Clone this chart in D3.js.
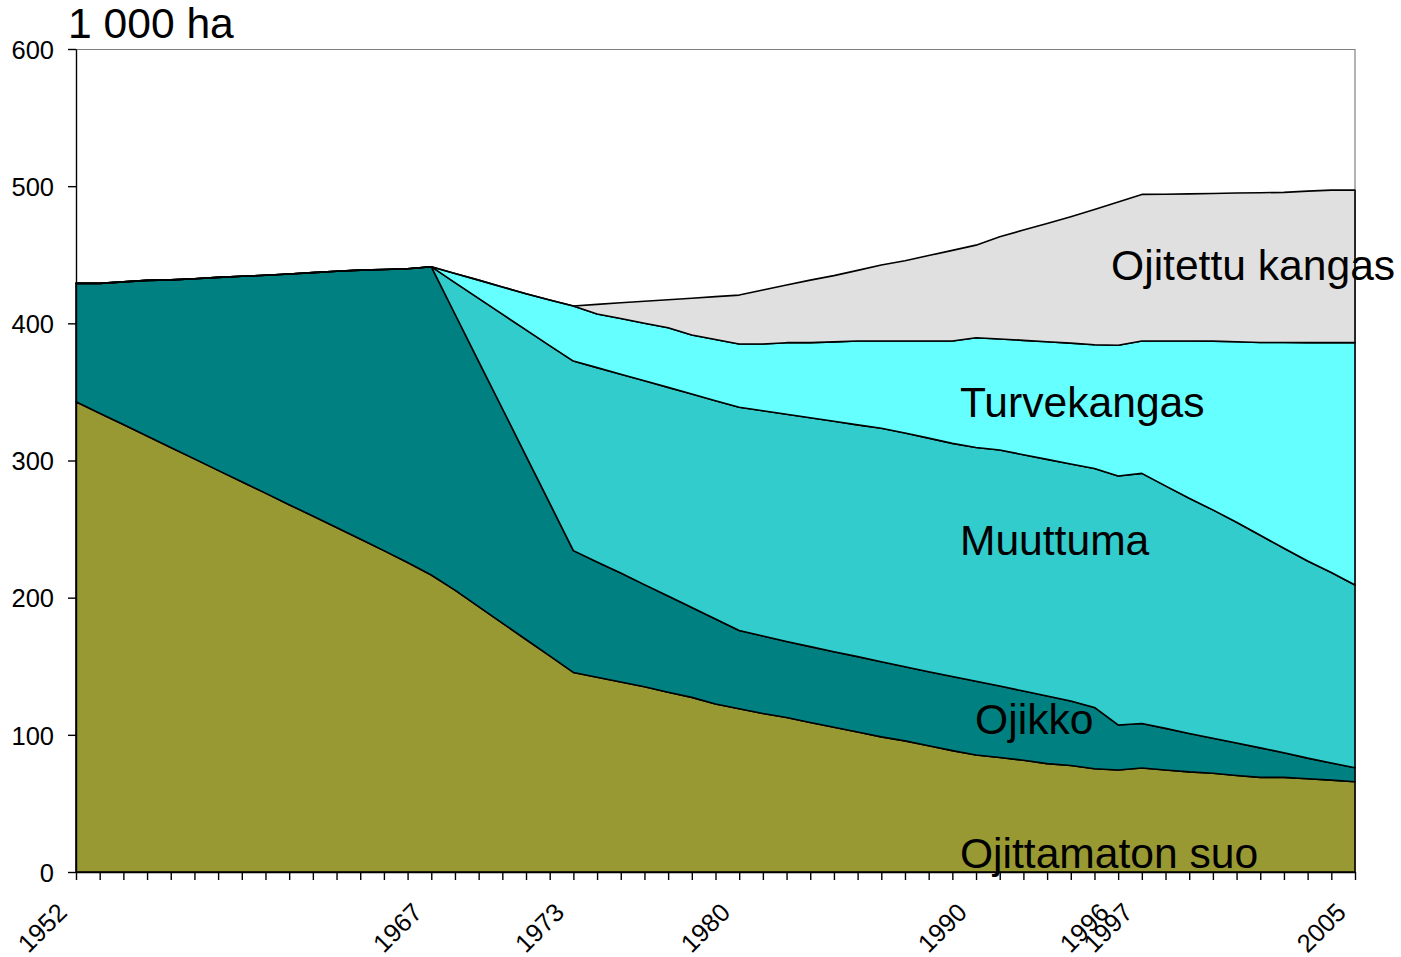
<!DOCTYPE html>
<html>
<head>
<meta charset="utf-8">
<script src="https://cdn.jsdelivr.net/npm/d3@7"></script>
<style>
  body { margin: 0; background: #fff; }
  svg { display: block; font-family: "Liberation Sans", Arial, sans-serif; }
  .axis text { font-size: 25.5px; fill: #000; }
  .axis path, .axis line { stroke: #000; stroke-width: 1.4; }
  .area-label { font-size: 42.6px; fill: #000; }
</style>
</head>
<body>
<svg id="chart" width="1401" height="957"></svg>
<script>
// x axis categories, blank where no year label is printed
const yearLabels = [
    '1952', '', '', '', '', '', '', '', '', '', '', '', '', '', '', '1967',
    '', '', '', '', '', '1973',
    '', '', '', '', '', '', '1980',
    '', '', '', '', '', '', '', '', '', '1990',
    '', '', '', '', '', '1996', '1997',
    '', '', '', '', '', '', '', '', '2005'
];

// 1 000 ha per series
const ojittamatonSuo = [
    342.8, 334.5, 326.2, 317.8, 309.5, 301.2, 292.8, 284.5, 276.2, 267.8,
    259.5, 251.2, 242.8, 234.3, 225.6, 216.5, 205.5, 193.5, 181.5, 169.5,
    157.5, 145.5, 142.0, 138.5, 135.0, 131.0, 127.3, 122.5, 119.0, 115.6,
    112.6, 109.0, 105.5, 102.0, 98.5, 95.6, 92.0, 88.5, 85.3, 83.5,
    81.5, 79.0, 77.6, 75.3, 74.4, 75.8, 74.4, 73.0, 72.0, 70.4,
    69.0, 69.0, 68.0, 67.0, 65.8
];
const ojikko = [
    86.3, 94.6, 104.0, 113.5, 122.2, 131.3, 140.7, 149.8, 158.8, 168.2,
    177.5, 186.8, 196.0, 205.0, 214.2, 224.8, 201.3, 178.8, 156.4, 133.9,
    111.4, 88.8, 84.0, 79.5, 74.5, 70.2, 65.5, 61.9, 57.0, 56.4,
    55.4, 55.3, 55.1, 55.0, 54.8, 54.1, 54.0, 54.0, 53.7, 52.1,
    50.4, 49.3, 47.1, 44.7, 32.8, 32.5, 30.3, 28.0, 25.5, 23.6,
    21.5, 18.0, 15.0, 12.5, 10.2
];
const muuttuma = [
    0, 0, 0, 0, 0, 0, 0, 0, 0, 0,
    0, 0, 0, 0, 0, 0, 22.9, 45.9, 68.8, 91.8,
    114.9, 138.2, 141.7, 144.9, 148.6, 152.1, 155.7, 159.2, 162.8, 164.3,
    165.7, 166.9, 168.0, 169.0, 170.2, 170.3, 170.3, 170.0, 170.5, 172.0,
    172.3, 172.5, 172.8, 174.2, 181.5, 182.3, 176.8, 171.5, 166.5, 161.0,
    155.0, 149.0, 143.7, 138.9, 133.2
];
const turvekangas = [
    0, 0, 0, 0, 0, 0, 0, 0, 0, 0,
    0, 0, 0, 0, 0, 0, 6.7, 13.3, 19.8, 26.3,
    33.2, 40.1, 39.1, 40.6, 42.0, 43.5, 43.0, 44.6, 46.1, 48.6,
    52.2, 54.7, 57.9, 61.1, 63.6, 67.1, 70.8, 74.6, 80.0, 81.0,
    83.4, 85.8, 88.1, 90.2, 95.3, 96.5, 105.6, 114.6, 123.0, 131.6,
    140.5, 150.0, 159.2, 167.5, 176.7
];
const ojitettuKangas = [
    0, 0, 0, 0, 0, 0, 0, 0, 0, 0,
    0, 0, 0, 0, 0, 0, 0, 0, 0, 0,
    0, 0, 7.0, 11.5, 16.0, 20.4, 26.8, 31.3, 35.7, 39.4,
    42.1, 45.6, 48.3, 51.5, 55.4, 58.5, 62.3, 66.1, 67.5, 74.5,
    80.4, 86.2, 92.1, 98.6, 104.5, 106.9, 107.0, 107.3, 107.7, 108.4,
    109.2, 109.5, 110.5, 111.2, 111.2
];

const seriesNames = ['Ojittamaton suo', 'Ojikko', 'Muuttuma', 'Turvekangas', 'Ojitettu kangas'];
const seriesValues = [ojittamatonSuo, ojikko, muuttuma, turvekangas, ojitettuKangas];
const seriesColors = ['#999933', '#008080', '#33CCCC', '#66FFFF', '#E0E0E0'];
const yTicks = [0, 100, 200, 300, 400, 500, 600];
const unitLabel = '1 000 ha';

class StackedAreaChart {

    constructor(_config) {
        this.config = {
            parentElement: _config.parentElement,
            margin: { top: 49, right: 46, bottom: 85, left: 76 }
        };
        this.initVis();
    }

    initVis() {
        let vis = this;
        vis.svg = d3.select(vis.config.parentElement);

        const m = vis.config.margin;
        vis.config.width = +vis.svg.attr('width') - m.left - m.right;
        vis.config.height = +vis.svg.attr('height') - m.top - m.bottom;

        vis.chartArea = vis.svg.append('g')
            .attr('transform', `translate(${m.left},${m.top})`);

        vis.xScale = d3.scaleLinear()
            .domain([0, yearLabels.length - 1])
            .range([0, vis.config.width]);

        vis.yScale = d3.scaleLinear()
            .domain([0, 600])
            .range([vis.config.height, 0]);

        // table for d3.stack
        vis.rows = yearLabels.map((_, i) => {
            let row = { idx: i };
            seriesNames.forEach((name, k) => row[name] = seriesValues[k][i]);
            return row;
        });
        vis.stacked = d3.stack().keys(seriesNames)(vis.rows);

        vis.renderVis();
    }

    renderVis() {
        let vis = this;

        // plot frame (top + right, grey)
        vis.chartArea.append('path')
            .attr('d', `M0,0.5H${vis.config.width}V${vis.config.height}`)
            .attr('fill', 'none')
            .attr('stroke', '#808080')
            .attr('stroke-width', 1.2);

        const area = d3.area()
            .x(d => vis.xScale(d.data.idx))
            .y0(d => vis.yScale(d[0]))
            .y1(d => vis.yScale(d[1]));

        vis.chartArea.selectAll('.layer')
            .data(vis.stacked)
            .join('path')
                .attr('class', 'layer')
                .attr('d', area)
                .attr('fill', (d, i) => seriesColors[i])
                .attr('stroke', '#000')
                .attr('stroke-width', 1.6)
                .attr('stroke-linejoin', 'round');

        this._renderAxes();
        this._renderLabels();
    }

    _renderAxes() {
        let vis = this;

        const xAxis = d3.axisBottom(vis.xScale)
            .tickValues(d3.range(yearLabels.length))
            .tickFormat(i => yearLabels[i])
            .tickSize(8)
            .tickSizeOuter(0);

        vis.chartArea.append('g')
            .attr('class', 'axis x-axis')
            .attr('transform', `translate(0,${vis.config.height})`)
            .call(xAxis)
            .selectAll('text')
                .attr('x', 0)
                .attr('y', 0)
                .attr('dy', 0)
                .attr('text-anchor', 'end')
                .attr('transform', 'translate(-8,42) rotate(-45)');

        const yAxis = d3.axisLeft(vis.yScale)
            .tickValues(yTicks)
            .tickSize(8)
            .tickPadding(14)
            .tickSizeOuter(0);

        vis.chartArea.append('g')
            .attr('class', 'axis y-axis')
            .call(yAxis)
            .selectAll('text')
                .attr('dy', '0.36em');
    }

    _renderLabels() {
        let vis = this;

        // label anchors in (category index, value) space
        const labels = [
            { text: 'Ojitettu kangas', i: 43.7, v: 431.6 },
            { text: 'Turvekangas', i: 37.32, v: 331.7 },
            { text: 'Muuttuma', i: 37.32, v: 231.1 },
            { text: 'Ojikko', i: 37.96, v: 100.6 },
            { text: 'Ojittamaton suo', i: 37.32, v: 2.9 }
        ];

        vis.chartArea.selectAll('.area-label')
            .data(labels)
            .join('text')
                .attr('class', 'area-label')
                .attr('x', d => vis.xScale(d.i))
                .attr('y', d => vis.yScale(d.v))
                .text(d => d.text);

        vis.svg.append('text')
            .attr('class', 'area-label')
            .attr('x', 68)
            .attr('y', 38)
            .text(unitLabel);
    }
}

new StackedAreaChart({ parentElement: '#chart' });
</script>
</body>
</html>
